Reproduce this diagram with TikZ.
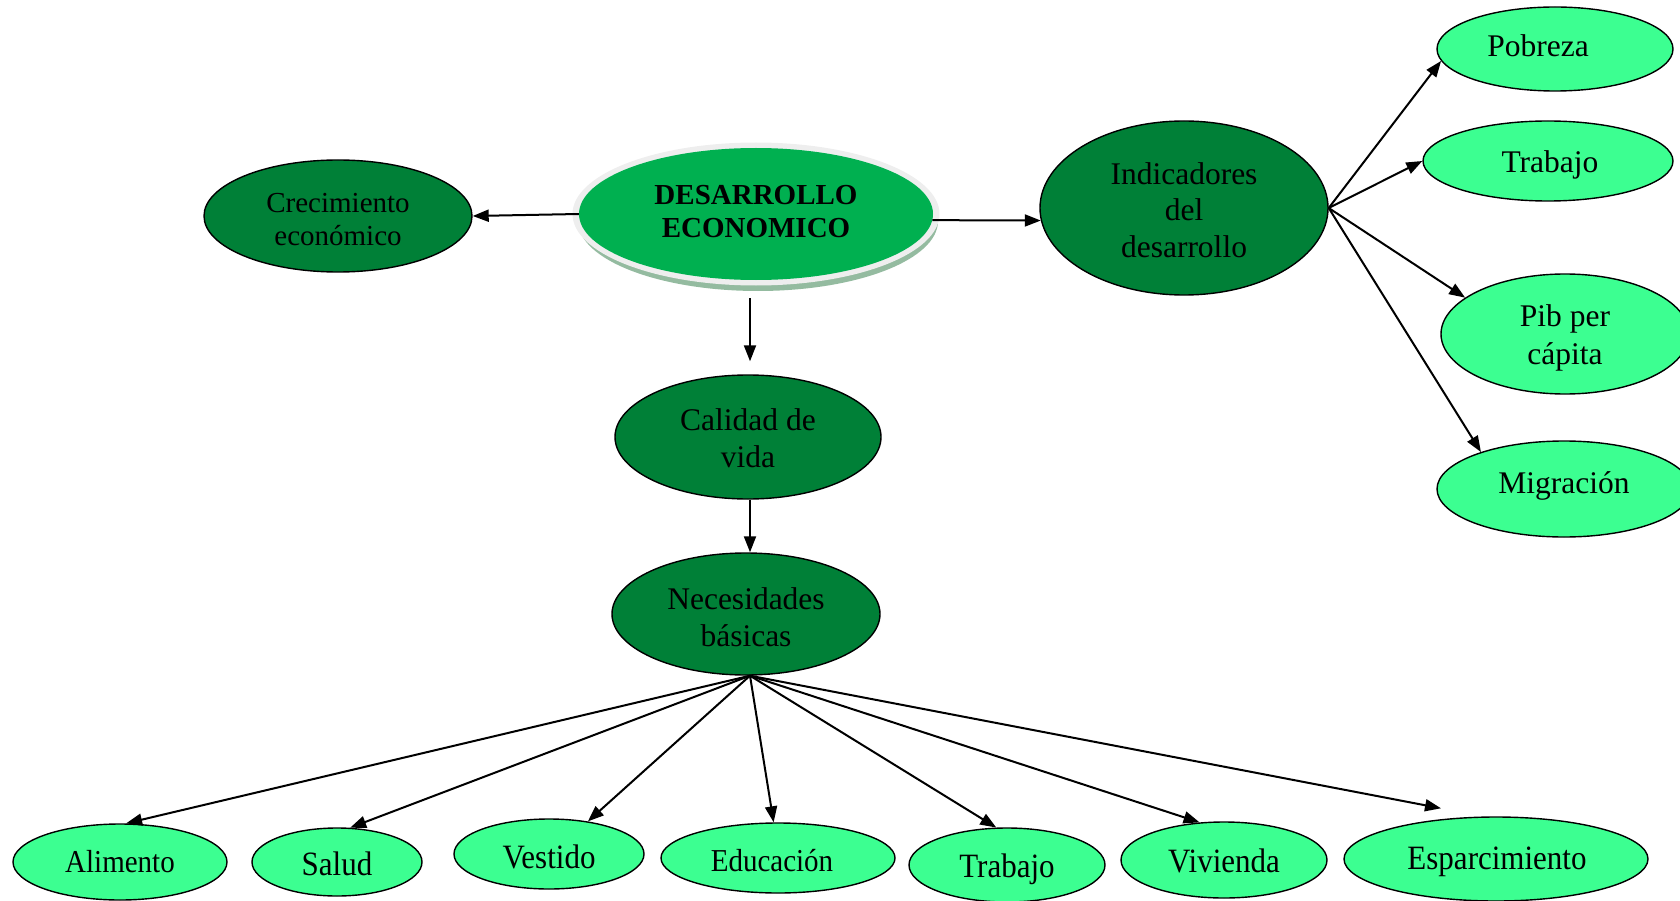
\documentclass[tikz,border=0pt]{standalone}
\usepackage{fontspec}
\setmainfont{Liberation Serif}
\usetikzlibrary{shapes.geometric,arrows.meta,calc}
\definecolor{dkg}{HTML}{008037}
\definecolor{midg}{HTML}{00B050}
\definecolor{ltg}{HTML}{3CFF91}
\definecolor{shg}{HTML}{94BBA0}
\definecolor{ring}{HTML}{EEEEEE}
\begin{document}
\begin{tikzpicture}[x=1pt,y=-1pt,
  ell/.style={ellipse,draw=black,line width=1.4pt,inner sep=0pt},
  dark/.style={ell,fill=dkg},
  light/.style={ell,fill=ltg},
  txt/.style={align=center,inner sep=0pt,font=\fontsize{31.5}{36.5}\selectfont},
  btxt/.style={inner sep=0pt,font=\fontsize{31}{36}\selectfont},
  arr/.style={line width=2pt,-{Triangle[length=16pt,width=12pt]}}]
\useasboundingbox (0,0) rectangle (1680,901);
% central node with shadow and ring
\node[ellipse,fill=shg,minimum width=360pt,minimum height=140pt,inner sep=0pt] (desshadow) at (758,221) {};
\node[ellipse,fill=ring,minimum width=367pt,minimum height=143pt,inner sep=0pt] (desring) at (756,214) {};
\node[ellipse,fill=midg,minimum width=354pt,minimum height=132pt,inner sep=0pt] (des) at (756,214) {};
\node[txt,font=\fontsize{29}{33}\selectfont\bfseries] (des-t) at ($(des)+(0,-2)$) {DESARROLLO\\ECONOMICO};
% other nodes
\node[dark,minimum width=268pt,minimum height=112pt] (cre) at (338,216) {};
\node[txt,font=\fontsize{29}{33}\selectfont] (cre-t) at ($(cre)+(0,4)$) {Crecimiento\\económico};
\node[dark,minimum width=288pt,minimum height=174pt] (ind) at (1184,208) {};
\node[txt] (ind-t) at ($(ind)+(0,2)$) {Indicadores\\del\\desarrollo};
\node[dark,minimum width=266pt,minimum height=124pt] (cal) at (748,437) {};
\node[txt] (cal-t) at ($(cal)+(0,1)$) {Calidad de\\vida};
\node[dark,minimum width=268pt,minimum height=122pt] (nec) at (746,614) {};
\node[txt] (nec-t) at ($(nec)+(0,3)$) {Necesidades\\básicas};
\node[light,minimum width=236pt,minimum height=84pt] (pob) at (1555,49) {};
\node[txt] (pob-t) at ($(pob)+(-17,-3)$) {Pobreza};
\node[light,minimum width=250pt,minimum height=80pt] (tra2) at (1548,161) {};
\node[txt] (tra2-t) at ($(tra2)+(2,4)$) {Trabajo};
\node[light,minimum width=248pt,minimum height=120pt] (pib) at (1565,334) {};
\node[txt,font=\fontsize{31.5}{37.5}\selectfont] (pib-t) at ($(pib)+(0,4)$) {Pib per\\cápita};
\node[light,minimum width=254pt,minimum height=96pt] (mig) at (1564,489) {};
\node[txt] (mig-t) at ($(mig)+(0,-3)$) {Migración};
\node[light,minimum width=214pt,minimum height=76pt] (ali) at (120,862) {};
\node[btxt,font=\fontsize{29}{34}\selectfont] (ali-t) at ($(ali)+(0,0)$) {\scalebox{1}[1.1]{Alimento}};
\node[light,minimum width=170pt,minimum height=68pt] (sal) at (337,862) {};
\node[btxt] (sal-t) at ($(sal)+(0,2)$) {\scalebox{1}[1.1]{Salud}};
\node[light,minimum width=190pt,minimum height=70pt] (ves) at (549,854) {};
\node[btxt] (ves-t) at ($(ves)+(0,3)$) {\scalebox{1}[1.1]{Vestido}};
\node[light,minimum width=234pt,minimum height=70pt] (edu) at (778,858) {};
\node[btxt,font=\fontsize{29}{34}\selectfont] (edu-t) at ($(edu)+(-6,3)$) {\scalebox{1}[1.1]{Educación}};
\node[light,minimum width=196pt,minimum height=74pt] (tra) at (1007,865) {};
\node[btxt] (tra-t) at ($(tra)+(0,4)$) {\scalebox{1}[1.1]{Trabajo}};
\node[light,minimum width=206pt,minimum height=76pt] (viv) at (1224,860) {};
\node[btxt] (viv-t) at ($(viv)+(0,1)$) {\scalebox{1}[1.1]{Vivienda}};
\node[light,minimum width=304pt,minimum height=84pt] (esp) at (1496,859) {};
\node[btxt] (esp-t) at ($(esp)+(1,3)$) {\scalebox{1}[1.1]{Esparcimiento}};
% connectors
\draw[arr] (des.west) -- (cre.east);
\draw[arr] (des.-2.3) -- (ind.185.2);
\draw[arr] ([xshift=-6pt,yshift=-18pt]des.south) -- ([xshift=2pt,yshift=13pt]cal.north);
\draw[arr] ([xshift=2pt]cal.south) -- ([xshift=4pt]nec.north);
\draw[arr] (ind.east) -- (pob.186.5);
\draw[arr] (ind.east) -- (tra2.west);
\draw[arr] (ind.east) -- (pib.160.6);
\draw[arr] (ind.east) -- (mig.156);
\draw[arr] ([xshift=4pt]nec.south) -- (ali.81);
\draw[arr] ([xshift=4pt]nec.south) -- (sal.69);
\draw[arr] ([xshift=4pt]nec.south) -- (ves.40);
\draw[arr] ([xshift=4pt]nec.south) -- (edu.97);
\draw[arr] ([xshift=4pt]nec.south) -- (tra.106);
\draw[arr] ([xshift=4pt]nec.south) -- (viv.123);
\draw[arr] ([xshift=4pt]nec.south) -- ([xshift=-55pt,yshift=8pt]esp.north);
\end{tikzpicture}
\end{document}
